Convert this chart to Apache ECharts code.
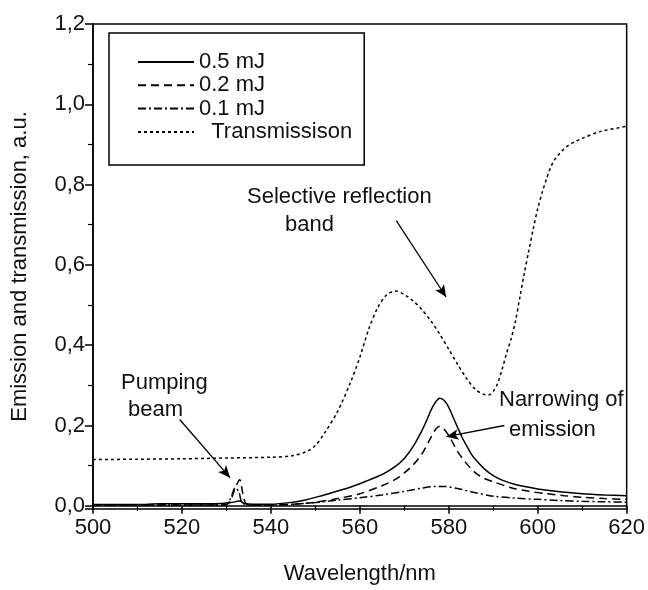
<!DOCTYPE html>
<html>
<head>
<meta charset="utf-8">
<script src="https://cdn.jsdelivr.net/npm/echarts@6/dist/echarts.min.js"></script>
<style>html,body{margin:0;padding:0;background:#fff}#c{width:648px;height:590px}</style>
</head>
<body>
<div id="c"></div>
<script>
// ---- data (wavelength nm, value a.u.) ----
const xTicks = [500, 520, 540, 560, 580, 600, 620];
const yTicks = ['0,0', '0,2', '0,4', '0,6', '0,8', '1,0', '1,2'];

const wl_05 = [500,505,510,515,520,525,529,531,533,534,536,540,545,548,550,552,555,558,560,562,564,566,568,570,572,574,575,576,577,578,579,580,581,582,583,584,585,586,588,590,592,595,598,600,605,610,615,620];
const em_05 = [0.003,0.003,0.003,0.005,0.005,0.005,0.006,0.008,0.012,0.006,0.004,0.004,0.009,0.015,0.021,0.027,0.037,0.047,0.055,0.064,0.073,0.084,0.098,0.118,0.148,0.188,0.212,0.238,0.258,0.268,0.262,0.245,0.220,0.195,0.170,0.150,0.130,0.115,0.092,0.075,0.064,0.053,0.046,0.042,0.035,0.030,0.027,0.025];

const wl_02 = [500,510,520,528,530,531,532,533,533.7,534.5,536,540,545,550,555,560,565,568,570,572,574,575.5,577,578,579,580,581,582,584,586,588,590,594,598,602,606,610,615,620];
const em_02 = [0.002,0.002,0.002,0.002,0.003,0.015,0.045,0.065,0.030,0.004,0.002,0.002,0.004,0.009,0.018,0.030,0.050,0.066,0.082,0.102,0.130,0.160,0.190,0.198,0.190,0.175,0.155,0.135,0.105,0.082,0.068,0.060,0.045,0.036,0.030,0.025,0.021,0.018,0.016];

const wl_01 = [500,510,520,528,530,531,532,532.8,533.5,535,540,545,550,555,560,565,570,574,577,579,582,585,590,595,600,605,610,615,620];
const em_01 = [0.002,0.002,0.002,0.002,0.003,0.020,0.045,0.035,0.008,0.002,0.002,0.004,0.008,0.014,0.020,0.027,0.036,0.044,0.048,0.048,0.043,0.035,0.024,0.019,0.016,0.013,0.011,0.010,0.009];

const wl_tr = [500,510,520,530,540,545,548,550,552,555,558,560,562,564,566,568,570,572,574,576,578,580,582,584,586,588,589,590,591,592,593,594,595,596,597,598,599,600,601,602,603,604,606,608,610,614,620];
const tr    = [0.115,0.116,0.117,0.119,0.121,0.125,0.135,0.150,0.180,0.235,0.310,0.370,0.440,0.493,0.525,0.535,0.526,0.510,0.488,0.460,0.427,0.390,0.352,0.317,0.290,0.277,0.276,0.285,0.305,0.340,0.380,0.415,0.460,0.520,0.580,0.635,0.690,0.740,0.780,0.815,0.845,0.865,0.890,0.905,0.915,0.932,0.945];

const names = ['0.5 mJ', '0.2 mJ', '0.1 mJ', 'Transmissison'];

function pairs(xs, ys) { return xs.map((x, i) => [x, ys[i]]); }

const chart = echarts.init(document.getElementById('c'), null, {renderer: 'canvas'});
const FONT = 'Liberation Sans';
const black = '#000';
const TXT = '22px "Liberation Sans"';

function lineSeries(name, xs, ys, type, extra) {
  return Object.assign({
    name: name, type: 'line', data: pairs(xs, ys), symbol: 'none', smooth: 0.3,
    lineStyle: {color: black, width: 1.5, type: type}, itemStyle: {color: black},
    z: 3, animation: false
  }, extra || {});
}

const option = {
  animation: false,
  backgroundColor: '#fff',
  grid: {left: 93, right: 20, top: 24, bottom: 78, show: true, borderColor: black, borderWidth: 1.5},
  legend: {
    left: 109, top: 33, orient: 'vertical',
    data: names,
    itemWidth: 56, itemHeight: 14, itemGap: 1.3,
    padding: [18, 12, 22, 28],
    borderColor: black, borderWidth: 1.5,
    itemStyle: {opacity: 0},
    textStyle: {fontFamily: FONT, fontSize: 22, color: '#111', lineHeight: 22},
    formatter: n => n === 'Transmissison' ? '  ' + n : n
  },
  xAxis: {
    type: 'value', min: 500, max: 620, interval: 20,
    name: 'Wavelength/nm', nameLocation: 'middle', nameGap: 54,
    nameTextStyle: {fontFamily: FONT, fontSize: 22, color: '#111'},
    axisLine: {lineStyle: {color: black, width: 1.5}},
    axisTick: {length: 8, lineStyle: {color: black, width: 1.5}},
    minorTick: {show: true, splitNumber: 2, length: 5, lineStyle: {color: black, width: 1.2}},
    splitLine: {show: false},
    axisLabel: {fontFamily: FONT, fontSize: 22, color: '#111', margin: 8,
      formatter: v => xTicks.indexOf(v) >= 0 ? String(v) : ''}
  },
  yAxis: {
    type: 'value', min: -0.008, max: 1.2, splitNumber: 6,
    name: 'Emission and transmission, a.u.', nameLocation: 'middle', nameGap: 62,
    nameTextStyle: {fontFamily: FONT, fontSize: 22, color: '#111'},
    axisLine: {lineStyle: {color: black, width: 1.5}},
    axisTick: {length: 8, lineStyle: {color: black, width: 1.5}},
    minorTick: {show: true, splitNumber: 2, length: 5, lineStyle: {color: black, width: 1.2}},
    splitLine: {show: false},
    axisLabel: {fontFamily: FONT, fontSize: 22, color: '#111', margin: 8, showMinLabel: false,
      formatter: v => {
        const i = Math.round(v / 0.2);
        return (Math.abs(v - i * 0.2) < 1e-6 && i >= 0) ? yTicks[i] : '';
      }}
  },
  series: [
    lineSeries(names[0], wl_05, em_05, 'solid'),
    lineSeries(names[1], wl_02, em_02, [8, 5]),
    lineSeries(names[2], wl_01, em_01, [8, 3, 2, 3]),
    lineSeries(names[3], wl_tr, tr, [3, 3], {
      markLine: {
        silent: true, symbol: ['none', 'arrow'], symbolSize: [8, 12],
        label: {show: false},
        lineStyle: {color: black, width: 1.3, type: 'solid'},
        animation: false,
        data: [
          [{coord: [568.2, 0.71]}, {coord: [579.4, 0.52]}],
          [{coord: [519.5, 0.215]}, {coord: [530.8, 0.07]}],
          [{coord: [592.5, 0.2]}, {coord: [579.5, 0.172]}]
        ]
      }
    })
  ],
  graphic: [
    {type: 'text', left: 247, top: 186, style: {text: 'Selective reflection', font: TXT, fill: '#111'}},
    {type: 'text', left: 285, top: 214, style: {text: 'band', font: TXT, fill: '#111'}},
    {type: 'text', left: 121, top: 372, style: {text: 'Pumping', font: TXT, fill: '#111'}},
    {type: 'text', left: 128, top: 399, style: {text: 'beam', font: TXT, fill: '#111'}},
    {type: 'text', left: 499, top: 389, style: {text: 'Narrowing of', font: TXT, fill: '#111'}},
    {type: 'text', left: 509, top: 419, style: {text: 'emission', font: TXT, fill: '#111'}}
  ]
};
chart.setOption(option);
</script>
</body>
</html>
